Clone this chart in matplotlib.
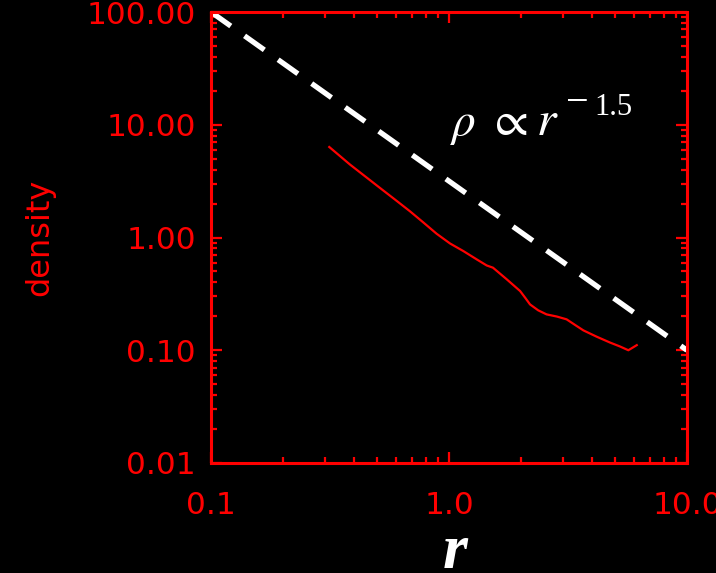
import matplotlib
matplotlib.use("Agg")
import matplotlib.pyplot as plt
import numpy as np
from matplotlib.ticker import LogLocator, FixedLocator, FixedFormatter, NullFormatter

# data
r_vals = [0.314, 0.384, 0.513, 0.593, 0.685, 0.780, 0.887, 1.01, 1.15, 1.31,
          1.44, 1.53, 1.75, 1.99, 2.09, 2.19, 2.37, 2.57, 2.84, 3.12,
          3.44, 3.67, 4.17, 4.75, 5.23, 5.67, 6.15]
rho_vals = [6.35, 4.43, 2.75, 2.17, 1.71, 1.36, 1.08, 0.885, 0.757, 0.638,
            0.565, 0.540, 0.425, 0.335, 0.292, 0.255, 0.226, 0.208, 0.199, 0.188,
            0.164, 0.150, 0.132, 0.117, 0.108, 0.100, 0.111]
ref_r = [0.1, 10.0]
ref_rho = [100.0, 0.1]
x_ticks = [0.1, 1.0, 10.0]
x_labels = ["0.1", "1.0", "10.0"]
y_ticks = [0.01, 0.1, 1.0, 10.0, 100.0]
y_labels = ["0.01", "0.10", "1.00", "10.00", "100.00"]

plt.rcParams["mathtext.fontset"] = "stix"
RED = "#ff0000"
fig = plt.figure(figsize=(7.16, 5.73), dpi=100, facecolor="black")
ax = fig.add_axes([211/716, 110/573, 476/716, 451/573], facecolor="black")

ax.plot(r_vals, rho_vals, color=RED, lw=1.6)
ax.plot(ref_r, ref_rho, color="white", lw=3.8, dashes=(4.6, 3.2),
        dash_capstyle="butt", solid_capstyle="butt")

ax.set_xscale("log")
ax.set_yscale("log")
ax.set_xlim(0.1, 10.0)
ax.set_ylim(0.01, 100.0)

ax.xaxis.set_major_locator(FixedLocator(x_ticks))
ax.xaxis.set_major_formatter(FixedFormatter(x_labels))
ax.yaxis.set_major_locator(FixedLocator(y_ticks))
ax.yaxis.set_major_formatter(FixedFormatter(y_labels))
ax.xaxis.set_minor_locator(LogLocator(base=10, subs=np.arange(2, 10)))
ax.yaxis.set_minor_locator(LogLocator(base=10, subs=np.arange(2, 10)))
ax.xaxis.set_minor_formatter(NullFormatter())
ax.yaxis.set_minor_formatter(NullFormatter())

for s in ax.spines.values():
    s.set_color(RED)
    s.set_linewidth(2.2)

ax.tick_params(which="both", direction="in", top=True, right=True, colors=RED,
               labelcolor=RED, width=1.6)
ax.tick_params(which="major", length=8, labelsize=22.5)
ax.tick_params(which="minor", length=4.5)
ax.tick_params(axis="x", which="major", pad=20)
ax.tick_params(axis="y", which="major", pad=11)

ax.set_ylabel("density", color=RED, fontsize=23, va="center")
ax.yaxis.set_label_coords(-0.359, 0.5)
ax.set_xlabel("r", color="white", fontsize=46, family="Liberation Serif",
              fontweight="bold", style="italic", va="baseline")
ax.xaxis.set_label_coords(0.513, -0.233)

# annotation  rho ∝ r^-1.5
yb = 0.727
ax.text(0.503, yb, r"$\rho$", transform=ax.transAxes, color="white",
        fontsize=34, va="baseline", ha="left")
ax.text(0.580, yb, r"$\propto$", transform=ax.transAxes, color="white",
        fontsize=35, va="baseline", ha="left")
ax.text(0.682, yb, r"$r$", transform=ax.transAxes, color="white",
        fontsize=36, va="baseline", ha="left")
ax.text(0.746, 0.775, "\u2212", transform=ax.transAxes, color="white",
        fontsize=29, family="Liberation Serif", va="baseline", ha="left")
ax.text(0.806, 0.772, "1.5", transform=ax.transAxes, color="white",
        fontsize=22, family="Liberation Serif", va="baseline", ha="left")

fig.savefig("out.png", dpi=100, facecolor="black")
